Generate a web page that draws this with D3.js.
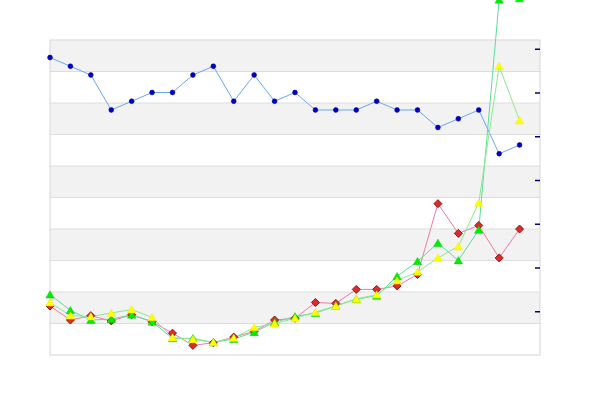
<!DOCTYPE html>
<html>
<head>
<meta charset="utf-8">
<script src="https://cdn.jsdelivr.net/npm/d3@7"></script>
<style>
html,body{margin:0;padding:0;background:#fff;}
svg{display:block;}
</style>
</head>
<body>
<svg id="chart" width="600" height="400"></svg>
<script>
// ---- data ----
const categories = d3.range(1, 25);
const blueValues   = [34,33,32,28,29,30,30,32,33,29,32,29,30,28,28,28,29,28,28,26,27,28,23,24];
const redValues    = [5.6,4.0,4.5,3.9,4.6,3.8,2.5,1.1,1.4,2.05,2.7,4.0,4.2,6.0,5.9,7.5,7.5,7.9,9.2,17.3,13.9,14.8,11.1,14.4];
const greenValues  = [6.9,5.1,4.0,4.1,4.6,3.8,1.9,1.9,1.45,1.83,2.6,3.75,4.4,4.8,5.6,6.4,6.75,9.0,10.7,12.8,10.8,14.3,40.6,40.75];
const yellowValues = [6.0,4.5,4.4,4.8,5.2,4.3,2.0,1.8,1.45,1.95,3.15,3.6,4.2,4.9,5.6,6.4,6.9,8.5,9.5,11.1,12.4,17.4,33.0,26.8];
const yTicks = [5,10,15,20,25,30,35];
const yMax = 36;
const bandCount = 10;

// ---- layout ----
const svg = d3.select("#chart");
const plotLeft = 50, plotRight = 540, plotTop = 40, plotBottom = 355;

const x = d3.scaleLinear().domain([0, categories.length]).range([plotLeft, plotRight]);
const y = d3.scaleLinear().domain([0, yMax]).range([plotBottom, plotTop]);

// bands
const bandEdges = d3.range(bandCount + 1).map(i => yMax - i * yMax / bandCount);
const bands = d3.range(bandCount).map(i => ({hi: bandEdges[i], lo: bandEdges[i + 1], gray: i % 2 === 0}));
svg.append("g").selectAll("rect").data(bands).join("rect")
  .attr("x", plotLeft).attr("width", plotRight - plotLeft)
  .attr("y", d => y(d.hi)).attr("height", d => y(d.lo) - y(d.hi))
  .attr("fill", d => d.gray ? "#f2f2f2" : "#ffffff");

svg.append("g").selectAll("line").data(bandEdges.slice(1, -1)).join("line")
  .attr("x1", plotLeft).attr("x2", plotRight)
  .attr("y1", d => y(d)).attr("y2", d => y(d))
  .attr("stroke", "#dddddd").attr("stroke-width", 1);

svg.append("rect")
  .attr("x", plotLeft).attr("y", plotTop).attr("width", plotRight - plotLeft).attr("height", plotBottom - plotTop)
  .attr("fill", "none").attr("stroke", "#dddddd").attr("stroke-width", 1.2);

// right axis ticks (no labels)
const axis = d3.axisLeft(y).tickValues(yTicks).tickSize(5).tickFormat("");
const ax = svg.append("g").attr("transform", `translate(${plotRight},0)`).call(axis);
ax.select(".domain").remove();
ax.selectAll(".tick line").attr("stroke", "#000080").attr("stroke-width", 1.5);

// ---- series ----
const line = d3.line().x((d, i) => x(i)).y(d => y(d));

function drawLine(values, color) {
  svg.append("path").datum(values)
    .attr("d", line).attr("fill", "none")
    .attr("stroke", color).attr("stroke-width", 1);
}

const triPath = "M0,-3.8L4.2,3.4L-4.2,3.4Z";
const diaPath = "M0,-4L4,0L0,4L-4,0Z";

// blue
drawLine(blueValues, "#6aa8f0");
svg.append("g").selectAll("circle").data(blueValues).join("circle")
  .attr("cx", (d, i) => x(i)).attr("cy", d => y(d)).attr("r", 2.4)
  .attr("fill", "#0000c8").attr("stroke", "#000090").attr("stroke-width", 0.6);

// red, green, yellow lines
drawLine(redValues, "#f07aa8");
drawLine(greenValues, "#5edc9a");
drawLine(yellowValues, "#8ee88e");

svg.append("g").selectAll("path").data(redValues).join("path")
  .attr("d", diaPath)
  .attr("transform", (d, i) => `translate(${x(i)},${y(d)})`)
  .attr("fill", "#e02a2a").attr("stroke", "#901818").attr("stroke-width", 1);

svg.append("g").selectAll("path").data(greenValues).join("path")
  .attr("d", triPath)
  .attr("transform", (d, i) => `translate(${x(i)},${y(d)})`)
  .attr("fill", "#00ee00").attr("stroke", "#00cc00").attr("stroke-width", 0.5);

svg.append("g").selectAll("path").data(yellowValues).join("path")
  .attr("d", triPath)
  .attr("transform", (d, i) => `translate(${x(i)},${y(d)})`)
  .attr("fill", "#ffff00").attr("stroke", "#eeee00").attr("stroke-width", 0.5);
</script>
</body>
</html>
